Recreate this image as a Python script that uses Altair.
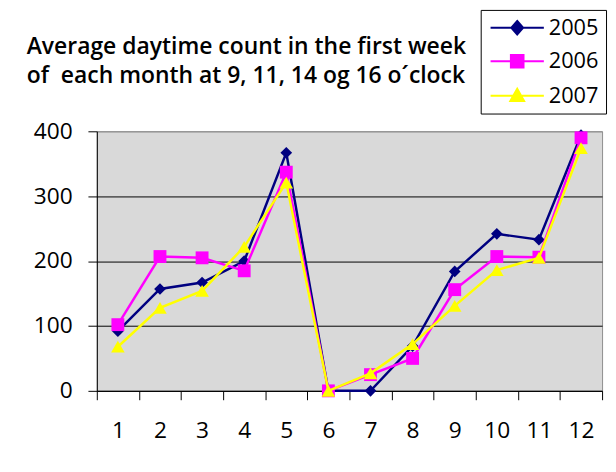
import altair as alt
import pandas as pd

months = list(range(1, 13))
years = ["2005", "2006", "2007"]
v2005 = [92, 157, 167, 200, 367, 0, 0, 69, 184, 242, 233, 394]
v2006 = [102, 207, 205, 185, 337, 0, 25, 50, 156, 207, 206, 390]
v2007 = [68, 128, 154, 222, 321, 0, 27, 72, 131, 186, 205, 374]
series = [v2005, v2006, v2007]

colors = ["#000080", "#ff00ff", "#ffff00"]
marker_shapes = ["diamond", "square", "triangle-up"]
marker_sizes = [140, 170, 190]
legend_paths = [
    "M-1,0L5.75,0M2.375,-0.85L3.125,0L2.375,0.85L1.625,0Z",
    "M-1,0L5.75,0M1.575,-0.8L3.175,-0.8L3.175,0.8L1.575,0.8Z",
    "M-1,0L5.75,0M2.375,-0.9L3.25,0.65L1.5,0.65Z",
]
title_lines = [
    "Average daytime count in the first week",
    "of\u00a0 each month at 9, 11, 14 og 16 o\u00b4clock",
]
y_ticks = [0, 100, 200, 300, 400]

rows = []
for yr, vals in zip(years, series):
    for m, v in zip(months, vals):
        rows.append({"month": m, "year": yr, "value": v})
df = pd.DataFrame(rows)

FONT = "Open Sans"

x_enc = alt.X(
    "month:O",
    bandPosition=0.5,
    scale=alt.Scale(type="band", paddingInner=0, paddingOuter=0),
    axis=alt.Axis(
        title=None, labelAngle=0, tickBand="extent", tickSize=9, labelPadding=20,
        grid=False, domainColor="black", tickColor="black",
        labelFont=FONT, labelFontSize=23, labelColor="black",
    ),
)
y_enc = alt.Y(
    "value:Q",
    scale=alt.Scale(domain=[0, 400], nice=False),
    axis=alt.Axis(
        title=None, values=y_ticks, tickSize=9, labelPadding=16, grid=True,
        gridColor={"condition": {"test": "datum.value === 400", "value": "#8c8c8c"}, "value": "black"},
        gridOpacity=1, gridWidth=1,
        domainColor="black", tickColor="black",
        labelFont=FONT, labelFontSize=23, labelColor="black",
    ),
)

fill_scale = alt.Scale(domain=years, range=colors)
stroke_scale = alt.Scale(domain=years, range=colors)

legend = alt.Legend(
    title=None, orient="none", legendX=389, legendY=-123,
    strokeColor="black", fillColor="white", padding=7,
    labelFont=FONT, labelFontSize=22, labelColor="black",
    symbolSize=256, symbolStrokeWidth=2, symbolOpacity=1,
    labelOffset=40, rowPadding=12,
)

base = alt.Chart(df)
layers = []
for yr, shp, sz in zip(years, marker_shapes, marker_sizes):
    sub = base.transform_filter(alt.datum.year == yr)
    layers.append(
        sub.mark_line(strokeWidth=2.5).encode(
            x=x_enc, y=y_enc,
            stroke=alt.Stroke("year:N", scale=stroke_scale, legend=legend),
        )
    )
    layers.append(
        sub.mark_point(filled=True, shape=shp, size=sz, opacity=1).encode(
            x=x_enc, y=y_enc,
            fill=alt.Fill("year:N", scale=fill_scale, legend=legend),
        )
    )

carrier = base.mark_point(filled=True, opacity=0).encode(
    x=x_enc, y=y_enc,
    fill=alt.Fill("year:N", scale=fill_scale, legend=legend),
    stroke=alt.Stroke("year:N", scale=stroke_scale, legend=legend),
    shape=alt.Shape("year:N", scale=alt.Scale(domain=years, range=legend_paths), legend=legend),
)
layers.append(carrier)

chart = alt.layer(*layers).properties(
    width=512,
    height=263,
    autosize=alt.AutoSizeParams(type="none"),
    padding={"left": 90, "top": 122, "right": 6, "bottom": 58},
    title=alt.TitleParams(
        text=title_lines, anchor="start", frame="group", font=FONT,
        fontSize=23.2, fontWeight=600, color="black", dx=-71,
        offset=0, dy=80, lineHeight=30,
    ),
    background="white",
).configure_view(
    fill="#d9d9d9", stroke="#8c8c8c", strokeWidth=1,
)

chart.save("out.html", embed_options={"renderer": "svg", "actions": False})
